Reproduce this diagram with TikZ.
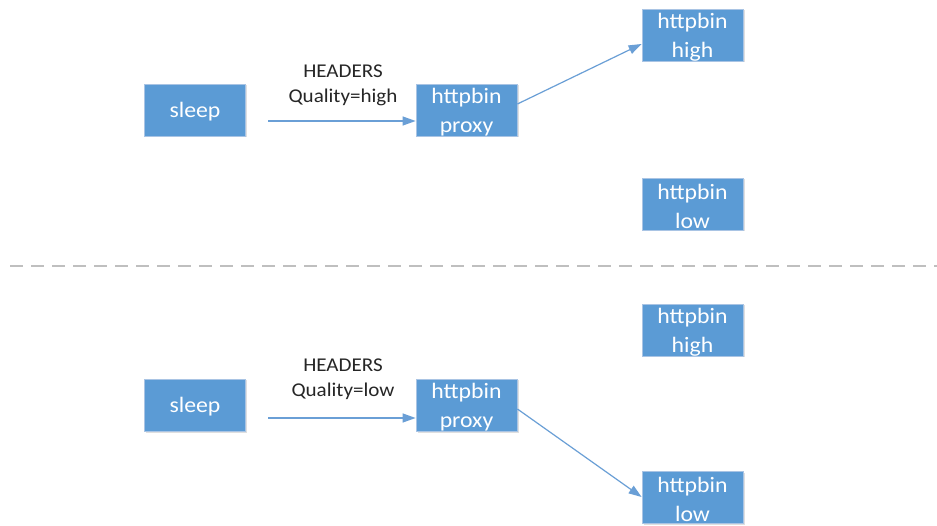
\documentclass[tikz,border=0pt]{standalone}
\usepackage{fontspec}
\setmainfont{Carlito}
\newfontfamily\wideface[FakeStretch=1.08]{Carlito}
\usetikzlibrary{arrows.meta,shadows}
\definecolor{boxblue}{HTML}{5B9BD5}
\definecolor{boxedge}{HTML}{A9C4E4}
\definecolor{linkblue}{HTML}{6A9FD6}
\definecolor{sepgray}{HTML}{BFBFBF}
\definecolor{labeltext}{HTML}{262626}
\tikzset{
  svc/.style={rectangle, fill=boxblue, draw=boxedge, line width=0.8pt,
    minimum width=101pt, minimum height=52pt, inner sep=0pt,
    drop shadow={shadow xshift=1.5pt, shadow yshift=-1.5pt, opacity=0.25, fill=black!50}},
  svctext/.style={inner sep=0pt, yshift=-2pt, text=white, align=center,
    font=\wideface\fontsize{22}{29}\selectfont},
  link/.style={draw=linkblue, line width=1.2pt,
    -{Triangle[length=13pt,width=9pt]}},
  hdr/.style={align=center, text=labeltext, font=\wideface\fontsize{19.5}{25}\selectfont},
}
\begin{document}
\begin{tikzpicture}[x=1pt,y=-1pt]
\useasboundingbox (0,0) rectangle (937,526);
\fill[white] (0,0) rectangle (937,526);

% upper half: request with Quality=high
\node[svc, label={[svctext]center:{sleep}}] (sleepA) at (195,110) {};
\node[svc, label={[svctext]center:{httpbin\\proxy}}] (proxyA) at (466.5,110) {};
\node[svc, label={[svctext]center:{httpbin\\high}}] (highA) at (692.5,35) {};
\node[svc, label={[svctext]center:{httpbin\\low}}] (lowA) at (692.5,204) {};
\coordinate (startA) at (268,121);
\draw[link] (startA) -- (startA -| proxyA.west);
\node[hdr] (hdrA) at (343,85) {HEADERS\\Quality=high};
\draw[link] ([yshift=6pt]proxyA.east) -- ([yshift=-9pt]highA.west);

% separator
\coordinate (sepL) at (10,266);
\coordinate (sepR) at (937,266);
\draw[sepgray, line width=2.6pt, dash pattern=on 13pt off 8pt] (sepL) -- (sepR);

% lower half: request with Quality=low
\node[svc, label={[svctext]center:{sleep}}] (sleepB) at (195,405) {};
\node[svc, label={[svctext]center:{httpbin\\proxy}}] (proxyB) at (466.5,405) {};
\node[svc, label={[svctext]center:{httpbin\\high}}] (highB) at (692.5,330) {};
\node[svc, label={[svctext]center:{httpbin\\low}}] (lowB) at (692.5,497) {};
\coordinate (startB) at (268,418);
\draw[link] (startB) -- (startB -| proxyB.west);
\node[hdr] (hdrB) at (343,379) {HEADERS\\Quality=low};
\draw[link] ([yshift=-4pt]proxyB.east) -- (lowB.west);
\end{tikzpicture}
\end{document}
